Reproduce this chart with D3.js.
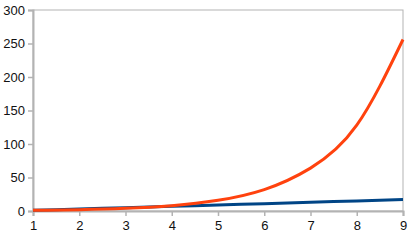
<!DOCTYPE html>
<html>
<head>
<meta charset="utf-8">
<script src="https://d3js.org/d3.v7.min.js"></script>
<style>
  body { margin: 0; background: #fff; }
  text { font-family: "Liberation Sans", Arial, sans-serif; font-size: 13px; fill: #111; }
</style>
</head>
<body>
<script>
// chart values
var xs = [1, 2, 3, 4, 5, 6, 7, 8, 9];
var linear = [1, 3, 5, 7, 9, 11, 13, 15, 17];
var expo = [1, 2, 4, 8, 16, 32, 64, 128, 256];
var yTicks = [0, 50, 100, 150, 200, 250, 300];

var width = 410, height = 240;
var margin = { left: 33, right: 403, top: 10, bottom: 211 };

var svg = d3.select("body").append("svg")
    .attr("width", width)
    .attr("height", height);

var x = d3.scaleLinear().domain([1, 9]).range([margin.left, margin.right]);
var y = d3.scaleLinear().domain([0, 300]).range([margin.bottom, margin.top]);

// plot frame
svg.append("rect")
    .attr("x", margin.left).attr("y", margin.top)
    .attr("width", margin.right - margin.left)
    .attr("height", margin.bottom - margin.top)
    .attr("fill", "none")
    .attr("stroke", "#b3b3b3");

svg.append("g")
    .attr("transform", "translate(" + margin.left + ",0)")
    .call(d3.axisLeft(y).tickValues(yTicks).tickSize(5).tickPadding(3));

svg.append("g")
    .attr("transform", "translate(0," + margin.bottom + ")")
    .call(d3.axisBottom(x).tickValues(xs).tickSize(5).tickPadding(5));

svg.selectAll(".domain").attr("stroke", "#b3b3b3").attr("stroke-width", 2);
svg.selectAll(".tick line").attr("stroke", "#b3b3b3").attr("stroke-width", 1.5);
svg.selectAll(".tick text").style("font-size", "13px").attr("fill", "#111");

var line = d3.line()
    .x(function(d, i) { return x(xs[i]); })
    .y(function(d) { return y(d); })
    .curve(d3.curveNatural);

svg.append("path")
    .datum(linear)
    .attr("d", line)
    .attr("fill", "none")
    .attr("stroke", "#004586")
    .attr("stroke-width", 3);

svg.append("path")
    .datum(expo)
    .attr("d", line)
    .attr("fill", "none")
    .attr("stroke", "#ff420e")
    .attr("stroke-width", 3);
</script>
</body>
</html>
